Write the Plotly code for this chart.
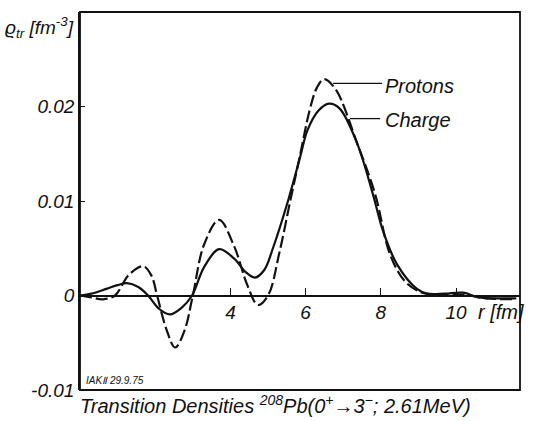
import plotly.graph_objects as go

# Charge transition density (solid)
charge_r = [0, 0.3, 0.7, 1.0, 1.25, 1.55, 1.81, 2.1, 2.39, 2.7, 2.98, 3.3, 3.7, 4.1, 4.4, 4.65,
            4.9, 5.13, 5.53, 5.85, 6.05, 6.35, 6.62, 6.9, 7.37, 7.79, 8.06, 8.43, 8.96, 9.23,
            9.7, 10.19, 10.6, 11.0, 11.6]
charge_rho = [0, 0.0002, 0.0007, 0.0011, 0.0013, 0.0009, 0.0, -0.0014, -0.0020, -0.0013, 0.0,
              0.0030, 0.0049, 0.0039, 0.0025, 0.0019, 0.0027, 0.0050, 0.0100, 0.0146, 0.0175,
              0.0196, 0.0203, 0.0198, 0.0161, 0.0107, 0.0068, 0.0033, 0.0007, 0.0002, 0.0002,
              0.0003, -0.0002, -0.0003, -0.0003]

# Proton transition density (dashed)
proton_r = [0, 0.3, 0.61, 0.93, 1.3, 1.68, 1.9, 2.05, 2.3, 2.53, 2.78, 3.0, 3.3, 3.7, 4.1, 4.45,
            4.73, 5.0, 5.3, 5.59, 5.85, 6.1, 6.3, 6.49, 6.8, 7.37, 7.85, 8.24, 8.64, 9.1, 9.6,
            10.2, 10.8, 11.6]
proton_rho = [0, -0.0002, -0.0004, 0.0, 0.0022, 0.0031, 0.0021, 0.0, -0.0036, -0.0055, -0.0037,
              0.0, 0.0054, 0.0080, 0.0052, 0.0011, -0.0010, 0.0, 0.0045, 0.0100, 0.0148, 0.0195,
              0.0220, 0.0229, 0.0218, 0.0161, 0.0107, 0.0044, 0.0015, 0.0003, 0.0001, 0.0001,
              -0.0003, -0.0004]

x_ticks = [4, 6, 8, 10]
y_ticks = [-0.01, 0, 0.01, 0.02]
y_ticktext = ["-0.01", "0", "0.01", "0.02"]

FONT = "Liberation Sans"
ink = "#111111"

fig = go.Figure()
fig.add_trace(go.Scatter(x=proton_r, y=proton_rho, mode="lines",
                         line=dict(color=ink, width=2.2, dash="12px,4px", shape="spline", smoothing=1.0),
                         name="Protons", showlegend=False))
fig.add_trace(go.Scatter(x=charge_r, y=charge_rho, mode="lines",
                         line=dict(color=ink, width=2.2, shape="spline", smoothing=1.0),
                         name="Charge", showlegend=False))

# leader lines
fig.add_trace(go.Scatter(x=[6.73, 8.03], y=[0.02245, 0.02245], mode="lines",
                         line=dict(color=ink, width=1.3), showlegend=False, hoverinfo="skip"))
fig.add_trace(go.Scatter(x=[7.18, 7.98], y=[0.01872, 0.01872], mode="lines",
                         line=dict(color=ink, width=1.3), showlegend=False, hoverinfo="skip"))

fig.update_layout(
    width=533, height=421,
    margin=dict(l=80, r=13, t=12, b=31),
    paper_bgcolor="white", plot_bgcolor="white",
    font=dict(family=FONT, color=ink, size=19, style="italic"),
    xaxis=dict(range=[0, 11.7], anchor="free", position=0.25, showgrid=False, zeroline=False,
               showline=True, linecolor=ink, linewidth=1.6,
               tickmode="array", tickvals=x_ticks, ticks="inside", ticklen=7, tickwidth=1.3,
               tickcolor=ink, tickfont=dict(family=FONT, size=19, style="italic")),
    yaxis=dict(range=[-0.01, 0.03], showgrid=False, zeroline=False, showline=True,
               linecolor=ink, linewidth=1.6, tickmode="array", tickvals=y_ticks,
               ticktext=y_ticktext, ticks="inside", ticklen=5, tickwidth=1.3, tickcolor=ink,
               tickfont=dict(family=FONT, size=19, style="italic")),
    shapes=[dict(type="rect", xref="paper", yref="paper", x0=0, x1=1, y0=0, y1=1,
                 line=dict(color=ink, width=1.8))],
    annotations=[
        dict(x=8.06, y=0.0222, xref="x", yref="y", text="Protons", showarrow=False,
             xanchor="left", yanchor="middle", font=dict(size=20, style="italic")),
        dict(x=8.06, y=0.0186, xref="x", yref="y", text="Charge", showarrow=False,
             xanchor="left", yanchor="middle", font=dict(size=20, style="italic")),
        dict(x=11.2, y=-0.0017, xref="x", yref="y", text="r [fm]", showarrow=False,
             xanchor="center", yanchor="middle", font=dict(size=20, style="italic")),
        dict(x=0.01, y=0.004, xref="paper", yref="paper", text="IAKⅡ 29.9.75", showarrow=False,
             xanchor="left", yanchor="bottom", font=dict(size=10, style="italic")),
        dict(x=-0.01, y=1.0, xref="paper", yref="paper",
             text="ϱ<sub>tr</sub> [fm<sup>-3</sup>]", showarrow=False,
             xanchor="right", yanchor="top", font=dict(size=19, style="italic")),
        dict(x=-0.005, y=0.0, xref="paper", yref="paper",
             text="Transition Densities <sup>208</sup>Pb(0<sup>+</sup>→3<sup>−</sup>; 2.61MeV)",
             showarrow=False, xanchor="left", yanchor="top", font=dict(size=20, style="italic")),
    ],
)

fig.write_html("out.html")
